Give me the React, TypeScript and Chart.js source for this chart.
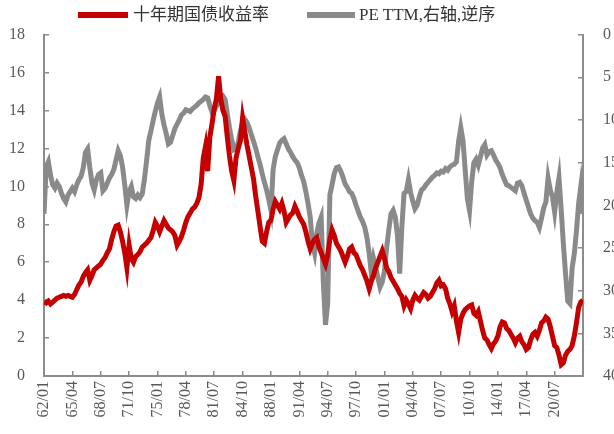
import React, { useEffect, useRef } from 'react';
import { Chart, registerables } from 'chart.js';

Chart.register(...registerables);

// Quarterly observations starting 1962/01 (label every 13 quarters = 39 months)
const START_YEAR = 1962;
const POINT_COUNT = 248;
const pointIndex: number[] = Array.from({ length: POINT_COUNT }, (_, i) => i);
const dateLabels: string[] = pointIndex.map((i) => {
  const y = (START_YEAR + Math.floor(i / 4)) % 100;
  const m = 1 + 3 * (i % 4);
  return `${String(y).padStart(2, '0')}/${String(m).padStart(2, '0')}`;
});

const SERIES_YIELD_LABEL = '十年期国债收益率';
const SERIES_PE_LABEL = 'PE TTM,右轴,逆序';

// 10Y treasury yield (%), left axis
const yieldSeries: number[] = [
  3.9, 3.85, 3.95, 3.8, 3.9, 4.0, 4.1, 4.15, 4.2, 4.25,
  4.2, 4.25, 4.2, 4.15, 4.3, 4.55, 4.8, 4.95, 5.25, 5.45,
  5.6, 5.05, 5.3, 5.6, 5.7, 5.8, 5.9, 6.1, 6.25, 6.5,
  6.7, 7.2, 7.6, 7.9, 7.95, 7.6, 7.1, 6.5, 5.7, 6.9,
  6.2, 6.0, 6.3, 6.4, 6.55, 6.8, 6.9, 7.0, 7.15, 7.3,
  7.65, 8.1, 7.9, 7.6, 7.9, 8.2, 8.0, 7.8, 7.7, 7.6,
  7.4, 6.9, 7.1, 7.35, 7.7, 8.1, 8.4, 8.6, 8.8, 8.9,
  9.1, 9.4, 10.1, 11.5, 12.1, 10.8, 12.6, 13.3, 14.1, 14.6,
  15.8, 14.6, 14.0, 13.7, 12.6, 11.6, 10.8, 10.3, 11.5, 12.0,
  12.4, 13.6, 12.9, 12.2, 11.6, 11.0, 10.4, 9.5, 8.7, 7.9,
  7.1, 7.0, 7.6, 8.1, 8.2, 8.8, 9.2, 9.0, 8.8, 9.1,
  8.7, 8.1, 8.3, 8.5, 8.6, 8.95, 8.7, 8.4, 8.2, 8.0,
  7.6, 7.1, 6.7, 7.0, 7.2, 7.3, 6.8, 6.5, 6.2, 5.9,
  6.4, 7.2, 7.7, 7.4, 7.0, 6.8, 6.6, 6.3, 6.0, 6.3,
  6.7, 6.8, 6.5, 6.4, 6.1, 5.8, 5.6, 5.3, 5.0, 4.6,
  5.0, 5.3, 5.7, 6.0, 6.3, 6.6, 6.2, 5.7, 5.5, 5.2,
  5.0, 4.8, 4.6, 4.35, 4.2, 3.7, 4.0, 3.8, 3.55, 4.0,
  4.25, 4.1, 4.0, 4.2, 4.4, 4.3, 4.1, 4.2, 4.4, 4.6,
  4.9, 5.05, 4.75, 4.8, 4.6, 4.1, 3.8, 3.4, 3.7, 2.9,
  2.3, 3.0, 3.3, 3.5, 3.6, 3.7, 3.75, 3.3, 3.2, 3.4,
  2.9, 2.4, 2.0, 1.9, 1.65, 1.45, 1.7, 1.85, 2.1, 2.6,
  2.85, 2.8, 2.5, 2.4, 2.2, 2.0, 1.75, 2.0, 2.1, 1.8,
  1.65, 1.4, 1.5, 1.9, 2.2, 2.3, 2.1, 2.4, 2.8, 2.9,
  3.1, 3.0, 2.6, 2.1, 1.6, 1.5, 1.1, 0.6, 0.7, 1.1,
  1.3, 1.4, 1.6, 2.1, 2.8, 3.6, 3.9, 4.0,
];

// PE TTM, right axis (reversed)
const peSeries: number[] = [
  21.0, 15.5, 14.9, 16.5, 17.6, 18.0, 17.4, 17.8, 18.6, 19.2,
  19.6, 18.8, 18.4, 18.0, 18.4, 17.6, 17.0, 16.6, 15.6, 13.8,
  13.4, 15.6, 17.4, 18.2, 17.0, 16.4, 16.2, 18.3, 18.0, 17.4,
  16.8, 16.4, 15.8, 14.7, 13.6, 14.2, 15.5, 17.6, 20.0, 18.4,
  17.8, 19.0, 19.2, 18.8, 19.1, 18.7, 17.0, 14.8, 12.4, 11.3,
  10.1, 9.0, 8.0, 7.3, 9.3, 10.6, 11.6, 12.8, 12.6, 11.8,
  11.0, 10.5, 10.0, 9.4, 9.2, 8.8, 8.9, 9.0, 8.7, 8.5,
  8.3, 8.0, 7.8, 7.6, 7.3, 7.4, 8.3, 9.1, 8.9, 8.4,
  7.8, 7.4, 7.2, 7.6, 9.3, 10.9, 12.3, 13.5, 13.4, 12.6,
  11.3, 10.3, 9.9, 10.3, 10.9, 11.7, 12.5, 13.3, 14.3, 15.2,
  16.3, 17.3, 18.2, 19.3, 20.6, 15.8, 14.3, 13.5, 12.7, 12.4,
  12.2, 12.8, 13.4, 13.8, 14.3, 14.7, 15.0, 15.6, 16.5, 17.2,
  18.4, 19.8, 21.4, 24.5, 25.6, 23.3, 22.1, 21.4, 29.0, 34.0,
  31.5, 18.8, 17.6, 16.3, 15.6, 15.5, 16.0, 16.7, 17.5, 17.9,
  18.4, 18.6, 19.2, 20.0, 20.7, 21.4, 21.9, 22.6, 23.8, 25.6,
  28.0, 26.2, 27.2, 28.5, 29.6, 29.0, 27.7, 25.0, 22.9, 21.0,
  20.6, 21.4, 23.6, 28.0, 22.5, 18.6, 18.4, 17.0, 18.5, 19.5,
  20.4, 20.0, 19.0, 18.2, 18.0, 17.6, 17.3, 17.0, 16.7, 16.5,
  16.2, 16.3, 16.0, 16.1, 15.7, 15.9, 15.5, 15.3, 15.2, 14.9,
  12.5, 10.9, 12.4, 15.8, 19.2, 20.6, 17.2, 15.0, 14.6, 15.3,
  14.3, 13.3, 12.9, 14.1, 13.7, 13.6, 14.1, 14.7, 15.1, 15.6,
  16.4, 17.0, 17.6, 17.7, 17.9, 18.1, 18.3, 17.4, 17.3, 17.7,
  18.6, 19.4, 20.2, 21.0, 21.5, 21.8, 22.0, 22.6, 21.5, 20.3,
  19.6, 16.8, 18.2, 19.0, 20.8, 18.5, 16.8, 20.5, 24.5, 28.0,
  31.2, 31.5, 27.4, 25.7, 23.0, 19.8, 17.8, 21.0,
];

const RED = '#c40000';
const GRAY = '#8a8a8a';
const AXIS = '#8c8c8c';
const TICK_TEXT = '#595959';
const FONT_FAMILY = "'Liberation Serif', 'Times New Roman', 'Noto Sans CJK SC', serif";
const LEGEND_FONT = "'Liberation Serif', 'Noto Sans CJK SC', serif";

export default function App() {
  const canvasRef = useRef<HTMLCanvasElement>(null);

  useEffect(() => {
    if (!canvasRef.current) return;
    const tickFont = { family: FONT_FAMILY, size: 16 };
    const chart = new Chart(canvasRef.current, {
      type: 'line',
      data: {
        labels: pointIndex,
        datasets: [
          {
            label: SERIES_YIELD_LABEL,
            data: yieldSeries,
            borderColor: RED,
            backgroundColor: RED,
            borderWidth: 5,
            pointRadius: 0,
            tension: 0,
            yAxisID: 'y',
          },
          {
            label: SERIES_PE_LABEL,
            data: peSeries,
            borderColor: GRAY,
            backgroundColor: GRAY,
            borderWidth: 5,
            pointRadius: 0,
            tension: 0,
            yAxisID: 'y1',
          },
        ],
      },
      options: {
        responsive: false,
        animation: false,
        layout: { padding: { top: 27, left: 0, right: 0, bottom: 0 } },
        plugins: {
          legend: { display: false },
          tooltip: { enabled: false },
        },
        scales: {
          x: {
            type: 'linear',
            min: 0,
            max: POINT_COUNT - 1,
            afterFit: (s: any) => {
              s.height = 58;
            },
            ticks: {
              stepSize: 13,
              autoSkip: false,
              maxRotation: 90,
              minRotation: 90,
              padding: 10,
              color: TICK_TEXT,
              font: tickFont,
              callback: (v: any) => {
                const i = Math.round(Number(v));
                return i >= POINT_COUNT - 1 ? '' : dateLabels[i];
              },
            },
            grid: {
              drawOnChartArea: false,
              tickLength: -5,
              color: AXIS,
              lineWidth: 1.5,
            },
            border: { display: true, color: AXIS, width: 2 },
          },
          y: {
            position: 'left',
            min: 0,
            max: 18,
            afterFit: (s: any) => {
              s.width = 44;
            },
            ticks: {
              stepSize: 2,
              padding: 24,
              color: TICK_TEXT,
              font: tickFont,
            },
            grid: {
              drawOnChartArea: false,
              tickLength: -5,
              color: AXIS,
              lineWidth: 1.5,
            },
            border: { display: true, color: AXIS, width: 2 },
          },
          y1: {
            position: 'right',
            reverse: true,
            min: 0,
            max: 40,
            afterFit: (s: any) => {
              s.width = 57;
            },
            ticks: {
              stepSize: 5,
              padding: 25,
              color: TICK_TEXT,
              font: tickFont,
            },
            grid: {
              drawOnChartArea: false,
              tickLength: -5,
              color: AXIS,
              lineWidth: 1.5,
            },
            border: { display: true, color: AXIS, width: 2 },
          },
        },
      },
    });
    return () => chart.destroy();
  }, []);

  return (
    <div
      style={{
        position: 'fixed',
        left: 0,
        top: 0,
        width: 614,
        height: 434,
        overflow: 'hidden',
        background: '#ffffff',
      }}
    >
      <canvas ref={canvasRef} width={640} height={434} style={{ display: 'block' }} />
      <div style={{ position: 'absolute', left: 78, top: 12, width: 50, height: 6, background: RED }} />
      <div
        style={{
          position: 'absolute',
          left: 133,
          top: 5,
          fontFamily: LEGEND_FONT,
          fontSize: 17,
          lineHeight: '20px',
          color: '#333333',
          whiteSpace: 'nowrap',
        }}
      >
        {SERIES_YIELD_LABEL}
      </div>
      <div style={{ position: 'absolute', left: 307, top: 12, width: 48, height: 6, background: GRAY }} />
      <div
        style={{
          position: 'absolute',
          left: 359,
          top: 5,
          fontFamily: LEGEND_FONT,
          fontSize: 17,
          lineHeight: '20px',
          color: '#333333',
          whiteSpace: 'nowrap',
        }}
      >
        {SERIES_PE_LABEL}
      </div>
    </div>
  );
}
